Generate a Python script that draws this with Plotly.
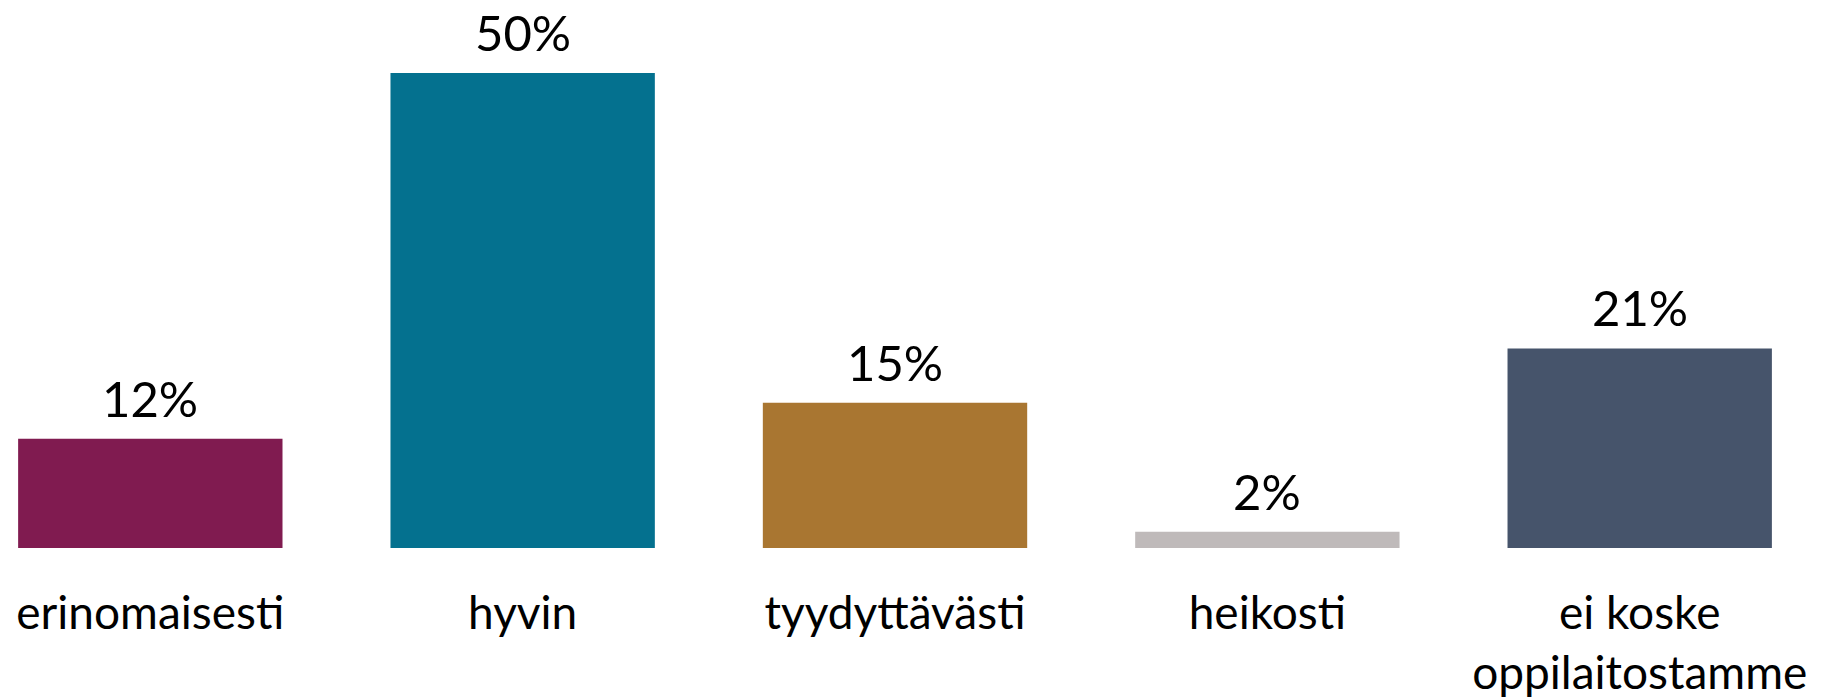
import plotly.graph_objects as go

categories = ["erinomaisesti", "hyvin", "tyydyttävästi", "heikosti", "ei koske<br>oppilaitostamme"]
values = [11.5, 50.0, 15.3, 1.7, 21.0]
labels = ["12%", "50%", "15%", "2%", "21%"]
colors = ["#801b50", "#04718f", "#a97631", "#bfbaba", "#46546b"]

FONT = "Source Sans Pro, Lato, Noto Sans, sans-serif"

fig = go.Figure(go.Bar(
    x=categories, y=values,
    marker=dict(color=colors, line=dict(width=0)),
    hoverinfo="skip",
))

for c, v, t in zip(categories, values, labels):
    fig.add_annotation(x=c, y=v, text=t, showarrow=False, yanchor="bottom",
                       yshift=11, borderpad=0,
                       font=dict(family=FONT, size=49, color="#000000"))

fig.update_layout(
    width=1819, height=691,
    margin=dict(l=0, r=0, t=0, b=151),
    paper_bgcolor="white", plot_bgcolor="white",
    bargap=0.29, showlegend=False,
    font=dict(family=FONT, size=46, color="#000000"),
)
fig.update_xaxes(range=[-0.3822, 4.503], showgrid=False, zeroline=False, showline=False,
                 ticks="", tickfont=dict(family=FONT, size=46, color="#000000"),
                 ticklabelstandoff=34, automargin=False)
fig.update_yaxes(range=[0, 56.84], visible=False, showgrid=False, zeroline=False,
                 automargin=False)

fig.write_html("out.html")
